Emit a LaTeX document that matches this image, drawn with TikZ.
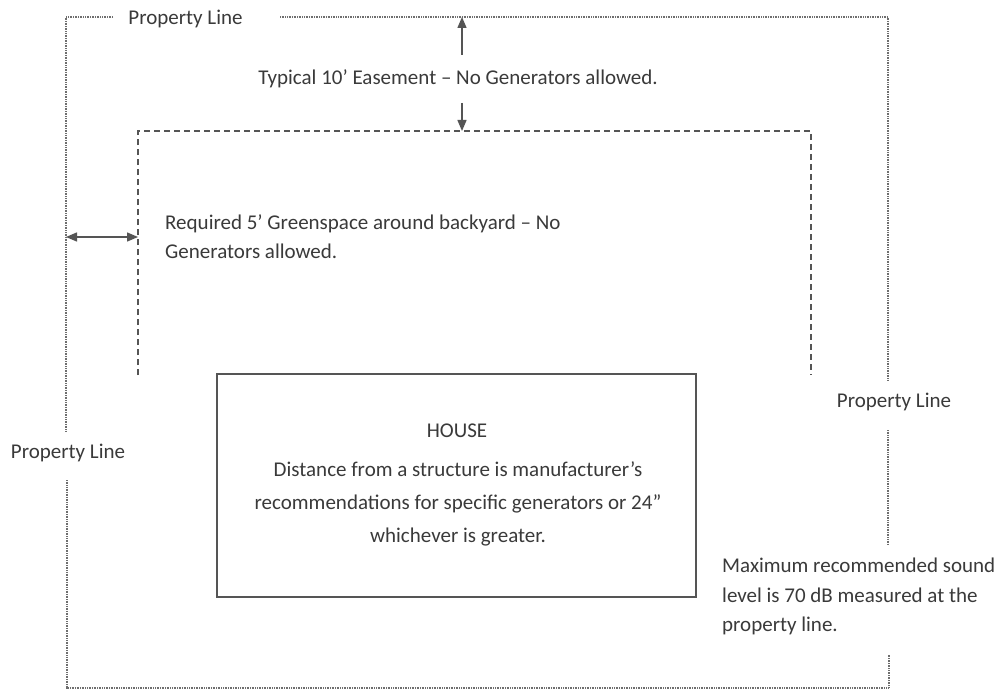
\documentclass[tikz,border=0pt]{standalone}
\usepackage{fontspec}
\setmainfont{Carlito}
\usetikzlibrary{arrows.meta}
\definecolor{txt}{HTML}{3A3A3A}
\definecolor{ln}{HTML}{555555}
\begin{document}
\begin{tikzpicture}[x=1pt,y=-1pt,
  lbl/.style={inner sep=0pt, text=txt, font=\fontsize{21}{29.5}\selectfont},
  prop/.style={draw=ln!85, line width=1.1pt, dash pattern=on 1pt off 0.7pt},
  green/.style={draw=ln, line width=1.3pt, dash pattern=on 6pt off 4pt},
  dim/.style={draw=ln, line width=1.4pt, -{Triangle[length=11pt,width=9pt]}},
  dimboth/.style={draw=ln, line width=1.4pt, {Triangle[length=11pt,width=9pt]}-{Triangle[length=11pt,width=9pt]}},
  housebox/.style={draw=ln, line width=1.5pt, minimum width=479pt, minimum height=223pt, inner sep=0pt}]
\useasboundingbox[fill=white] (0,0) rectangle (1006,690);

% corner coordinates of property line
\coordinate (pTL) at (66,17);
\coordinate (pTR) at (888,17);
\coordinate (pBL) at (67,688);
\coordinate (pBR) at (889,688);

% labels
\node[lbl] (topprop) at (185.5,19) {Property Line};
\node[lbl] (leftprop) at (68,453) {Property Line};
\node[lbl] (rightprop) at (894,402) {Property Line};
\node[lbl] (ease) at (458,79) {Typical 10’ Easement – No Generators allowed.};
\node[lbl, anchor=north west, align=left] (greenlbl) at (165,214) {Required 5’ Greenspace around backyard – No\\Generators allowed.};
\node[lbl, anchor=north west, align=left] (soundlbl) at (722,558) {Maximum recommended sound\\level is 70 dB measured at the\\property line.};

% house
\node[housebox] (house) at (456.5,485.5) {};
\node[lbl] (houselbl) at (457,431) {HOUSE};
\node[lbl, anchor=north, align=center, font=\fontsize{21}{33}\selectfont] (housetxt) at (458,461)
  {Distance from a structure is manufacturer’s\\recommendations for specific generators or 24”\\whichever is greater.};

% property line (dotted, interrupted by labels)
\coordinate (t1) at (113,17);
\coordinate (t2) at (280,17);
\coordinate (l1) at (66,431);
\coordinate (l2) at (67,480);
\coordinate (r1) at (888,380);
\coordinate (r2) at (888,430);
\coordinate (r3) at (888,545);
\coordinate (r4) at (889,655);
\draw[prop] (t1) -- (pTL) -- (l1);
\draw[prop] (l2) -- (pBL) -- (pBR) -- (r4);
\draw[prop] (t2) -- (pTR) -- (r1);
\draw[prop] (r2) -- (r3);

% greenspace dashed line
\coordinate (gBL) at (138,375);
\coordinate (gTL) at (138,131);
\coordinate (gTR) at (811,131);
\coordinate (gBR) at (811,375);
\draw[green] (gBL) -- (gTL) -- (gTR) -- (gBR);

% dimension arrows
\coordinate (upS) at (462,55);
\coordinate (upE) at (462,17);
\coordinate (dnS) at (462,103);
\coordinate (dnE) at (462,131);
\draw[dim] (upS) -- (upE);
\draw[dim] (dnS) -- (dnE);
\coordinate (hA) at (66,237);
\coordinate (hB) at (138,237);
\draw[dimboth] (hA) -- (hB);
\end{tikzpicture}
\end{document}
